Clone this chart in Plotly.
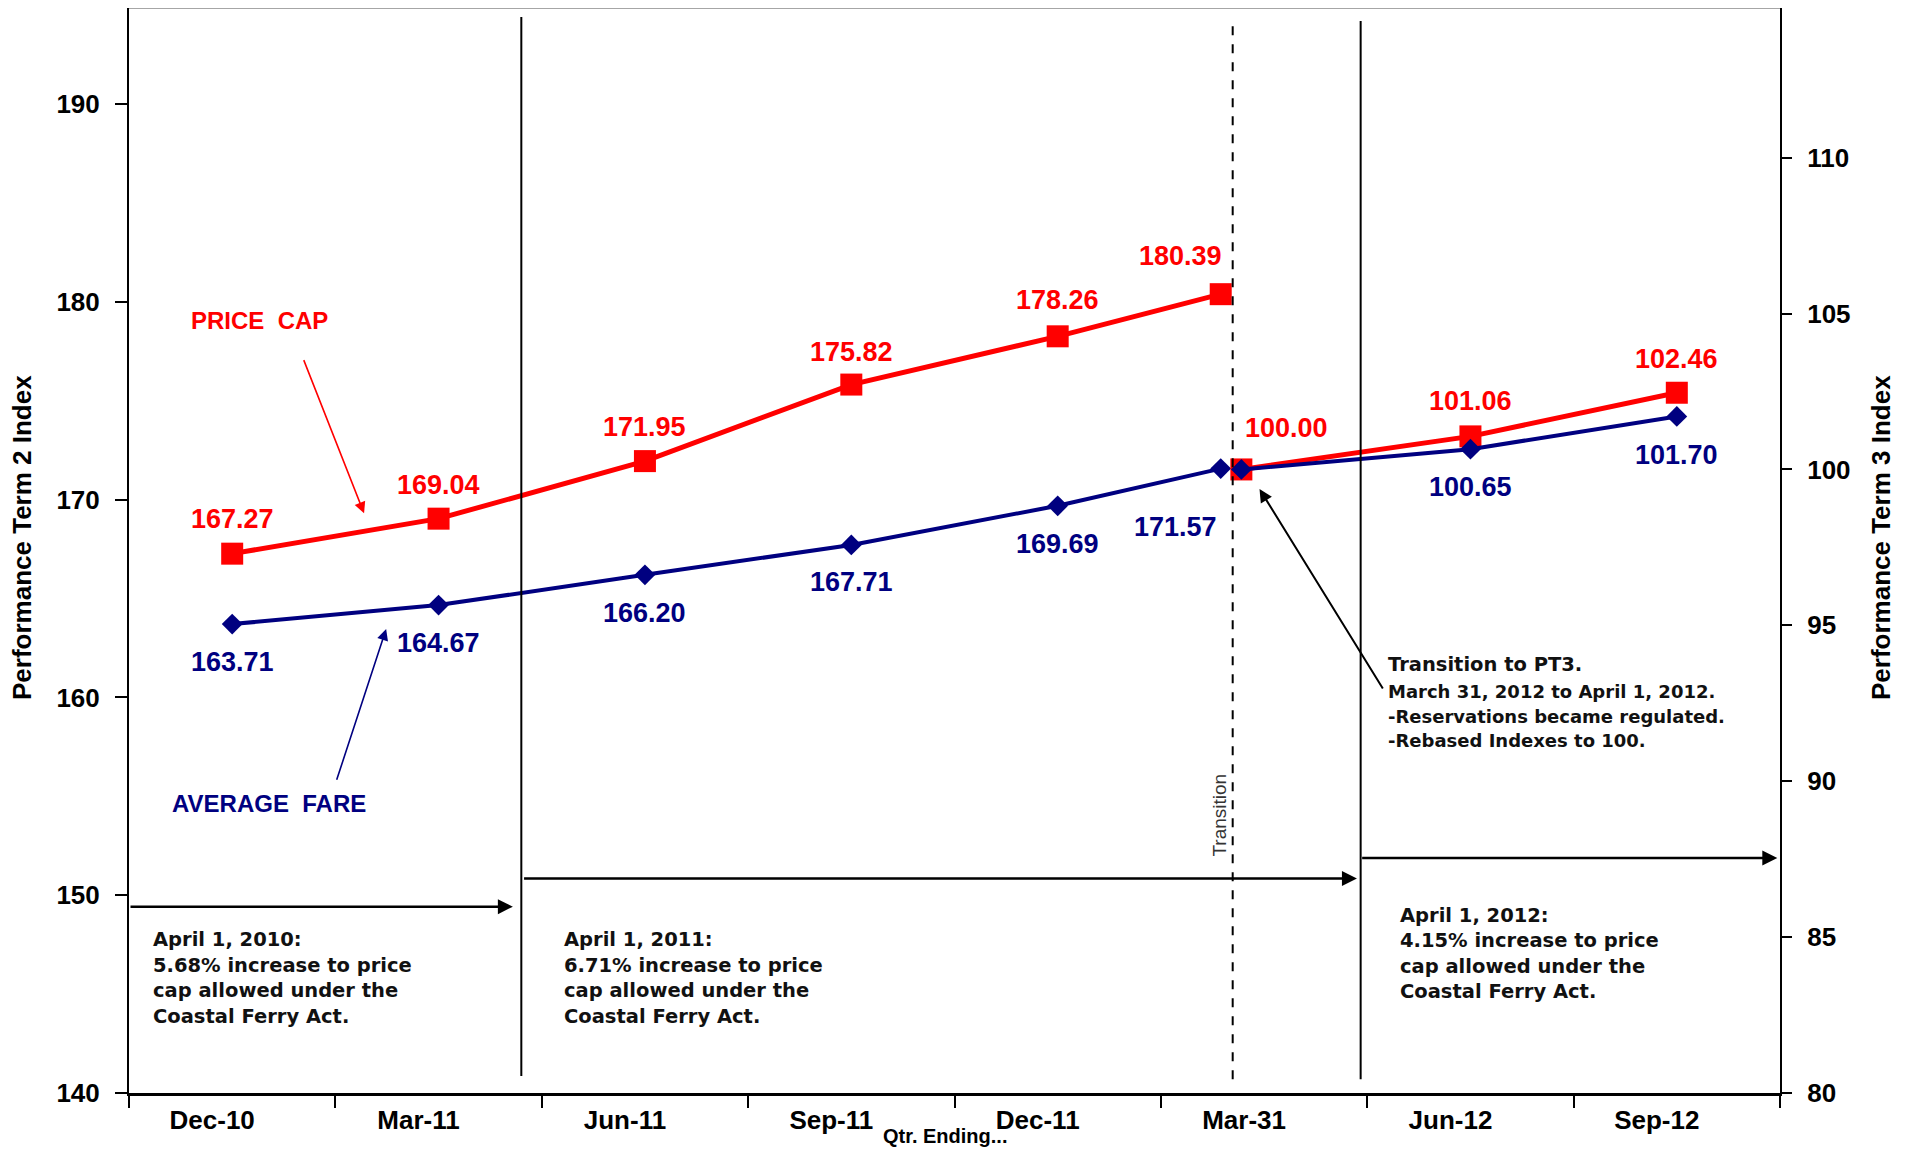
import numpy as np
import plotly.graph_objects as go

# ---------------- data ----------------
categories = ["Dec-10", "Mar-11", "Jun-11", "Sep-11", "Dec-11", "Mar-31", "Jun-12", "Sep-12"]
pt2_x = [0, 1, 2, 3, 4, 4.79]
pt2_price_cap = [167.27, 169.04, 171.95, 175.82, 178.26, 180.39]
pt2_avg_fare = [163.71, 164.67, 166.20, 167.71, 169.69, 171.57]
pt3_x = [4.89, 6, 7]
pt3_price_cap = [100.00, 101.06, 102.46]
pt3_avg_fare = [100.00, 100.65, 101.70]
left_ticks = [140, 150, 160, 170, 180, 190]
right_ticks = [80, 85, 90, 95, 100, 105, 110]

transition_note = ["Transition to PT3.", "March 31, 2012 to April 1, 2012.",
                   "-Reservations became regulated.", "-Rebased Indexes to 100."]
note_2010 = ["April 1, 2010:", "5.68% increase to price", "cap allowed under the", "Coastal Ferry Act."]
note_2011 = ["April 1, 2011:", "6.71% increase to price", "cap allowed under the", "Coastal Ferry Act."]
note_2012 = ["April 1, 2012:", "4.15% increase to price", "cap allowed under the", "Coastal Ferry Act."]

# ---------------- styles ----------------
RED = "#FF0000"
NAVY = "#000080"
ARIAL = "Liberation Sans, Arial, sans-serif"
DEJAVU = "DejaVu Sans, Verdana, sans-serif"

red2_shift = [(0, 35), (0, 34), (0, 34), (0, 33), (0, 36), (-40, 38)]
red3_shift = [(45, 41), (0, 35), (0, 34)]
blue2_shift = [(0, -38), (0, -38), (0, -38), (0, -37), (0, -38), (-45, -58)]
blue3_shift = [None, (0, -38), (0, -39)]

fig = go.Figure()

fig.add_trace(go.Scatter(x=pt2_x, y=pt2_price_cap, mode="lines+markers",
                         line=dict(color=RED, width=5),
                         marker=dict(symbol="square", size=22, color=RED),
                         showlegend=False, hoverinfo="skip"))
fig.add_trace(go.Scatter(x=pt3_x, y=pt3_price_cap, mode="lines+markers", yaxis="y2",
                         line=dict(color=RED, width=5),
                         marker=dict(symbol="square", size=22, color=RED),
                         showlegend=False, hoverinfo="skip"))
fig.add_trace(go.Scatter(x=pt2_x, y=pt2_avg_fare, mode="lines+markers",
                         line=dict(color=NAVY, width=4),
                         marker=dict(symbol="diamond", size=16, color=NAVY),
                         showlegend=False, hoverinfo="skip"))
fig.add_trace(go.Scatter(x=pt3_x, y=pt3_avg_fare, mode="lines+markers", yaxis="y2",
                         line=dict(color=NAVY, width=4),
                         marker=dict(symbol="diamond", size=16, color=NAVY),
                         showlegend=False, hoverinfo="skip"))

annotations = []


def add_labels(xs, ys, shifts, color, yref):
    for xv, yv, sh in zip(xs, ys, shifts):
        if sh is None:
            continue
        annotations.append(dict(x=xv, y=yv, xref="x", yref=yref, text=f"{yv:.2f}",
                                showarrow=False, xshift=sh[0], yshift=sh[1], xanchor="center",
                                font=dict(family=ARIAL, size=27, color=color, weight="bold")))


add_labels(pt2_x, pt2_price_cap, red2_shift, RED, "y")
add_labels(pt3_x, pt3_price_cap, red3_shift, RED, "y2")
add_labels(pt2_x, pt2_avg_fare, blue2_shift, NAVY, "y")
add_labels(pt3_x, pt3_avg_fare, blue3_shift, NAVY, "y2")

# series names
annotations.append(dict(x=0.132, y=179.04, xref="x", yref="y", text="PRICE\u00a0\u00a0CAP",
                        showarrow=False, xanchor="center",
                        font=dict(family=ARIAL, size=24, color=RED, weight="bold")))
annotations.append(dict(x=0.179, y=154.65, xref="x", yref="y", text="AVERAGE\u00a0\u00a0FARE",
                        showarrow=False, xanchor="center",
                        font=dict(family=ARIAL, size=24, color=NAVY, weight="bold")))


def arrow(x0, y0, x1, y1, color, width, size):
    annotations.append(dict(x=x1, y=y1, ax=x0, ay=y0, xref="x", yref="y", axref="x", ayref="y",
                            text="", showarrow=True, arrowhead=2, arrowsize=size,
                            arrowwidth=width, arrowcolor=color, standoff=0, startstandoff=0))


arrow(0.344, 177.13, 0.639, 169.31, RED, 1.6, 1.4)
arrow(0.504, 155.76, 0.746, 163.46, NAVY, 1.6, 1.4)
arrow(5.58, 160.38, 4.978, 170.54, "black", 2, 1.3)
arrow(-0.5, 149.42, 1.36, 149.42, "black", 2.5, 1.2)
arrow(1.407, 150.84, 5.45, 150.84, "black", 2.5, 1.2)
arrow(5.468, 151.88, 7.487, 151.88, "black", 2.5, 1.2)

# transition note
note_y = [161.67, 160.32, 159.03, 157.80]
for i, (line, yv) in enumerate(zip(transition_note, note_y)):
    annotations.append(dict(x=5.59, y=yv, xref="x", yref="y", text=line, showarrow=False,
                            xanchor="left", yanchor="middle",
                            font=dict(family=DEJAVU, size=19.5 if i == 0 else 18,
                                      color="#111111", weight="bold")))

# bottom notes
for block, x0, y0 in [(note_2010, -0.394, 147.76), (note_2011, 1.60, 147.76), (note_2012, 5.65, 148.99)]:
    for k, line in enumerate(block):
        annotations.append(dict(x=x0, y=y0 - k * 1.29, xref="x", yref="y", text=line,
                                showarrow=False, xanchor="left", yanchor="middle",
                                font=dict(family=DEJAVU, size=19.5, color="#111111", weight="bold")))

# rotated "Transition"
annotations.append(dict(x=4.783, y=154.04, xref="x", yref="y", text="Transition", textangle=-90,
                        showarrow=False, xanchor="center",
                        font=dict(family=ARIAL, size=19, color="#333333")))

# axis titles
annotations.append(dict(x=-0.0645, y=0.512, xref="paper", yref="paper", text="Performance Term 2 Index",
                        textangle=-90, showarrow=False, xanchor="center", yanchor="middle",
                        font=dict(family=ARIAL, size=26, color="black", weight="bold")))
annotations.append(dict(x=1.0615, y=0.512, xref="paper", yref="paper", text="Performance Term 3 Index",
                        textangle=-90, showarrow=False, xanchor="center", yanchor="middle",
                        font=dict(family=ARIAL, size=26, color="black", weight="bold")))
annotations.append(dict(x=0.494, y=-0.052, xref="paper", yref="paper", text="Qtr. Ending...",
                        showarrow=False, xanchor="center", yanchor="bottom",
                        font=dict(family=ARIAL, size=20, color="black", weight="bold")))

shapes = [
    dict(type="line", xref="paper", yref="paper", x0=0, x1=1, y0=1, y1=1,
         line=dict(color="#888888", width=1.5)),
    dict(type="line", xref="x", yref="y", x0=1.401, x1=1.401, y0=140.86, y1=194.4,
         line=dict(color="black", width=2)),
    dict(type="line", xref="x", yref="y", x0=4.848, x1=4.848, y0=140.7, y1=194.1,
         line=dict(color="black", width=2, dash="dash")),
    dict(type="line", xref="x", yref="y", x0=5.468, x1=5.468, y0=140.7, y1=194.2,
         line=dict(color="black", width=2)),
]

fig.update_layout(
    width=1895, height=1142,
    margin=dict(l=121, r=123, t=0, b=57),
    paper_bgcolor="white", plot_bgcolor="white",
    showlegend=False,
    annotations=annotations,
    shapes=shapes,
    xaxis=dict(range=[-0.5, 7.5], tickmode="array", tickvals=list(range(len(categories))),
               ticktext=categories, ticks="", ticklabelshift=-20, ticklabelstandoff=2,
               tickfont=dict(family=ARIAL, size=26, color="black", weight="bold"),
               showline=True, linecolor="black", linewidth=3, showgrid=False, zeroline=False,
               minor=dict(tickmode="linear", tick0=-0.5, dtick=1, ticks="outside",
                          ticklen=12, tickwidth=2, tickcolor="black", showgrid=False)),
    yaxis=dict(range=[140, 194.86], tickmode="array", tickvals=left_ticks,
               ticks="outside", ticklen=12, tickwidth=2, tickcolor="black", ticklabelstandoff=10,
               tickfont=dict(family=ARIAL, size=26, color="black", weight="bold"),
               showline=True, linecolor="black", linewidth=2, showgrid=False, zeroline=False),
    yaxis2=dict(range=[80, 114.8], overlaying="y", side="right", tickmode="array",
                tickvals=right_ticks, ticks="outside", ticklen=10, tickwidth=2, tickcolor="black",
                ticklabelstandoff=10,
                tickfont=dict(family=ARIAL, size=26, color="black", weight="bold"),
                showline=True, linecolor="black", linewidth=2, showgrid=False, zeroline=False),
)

fig.write_html("out.html")
